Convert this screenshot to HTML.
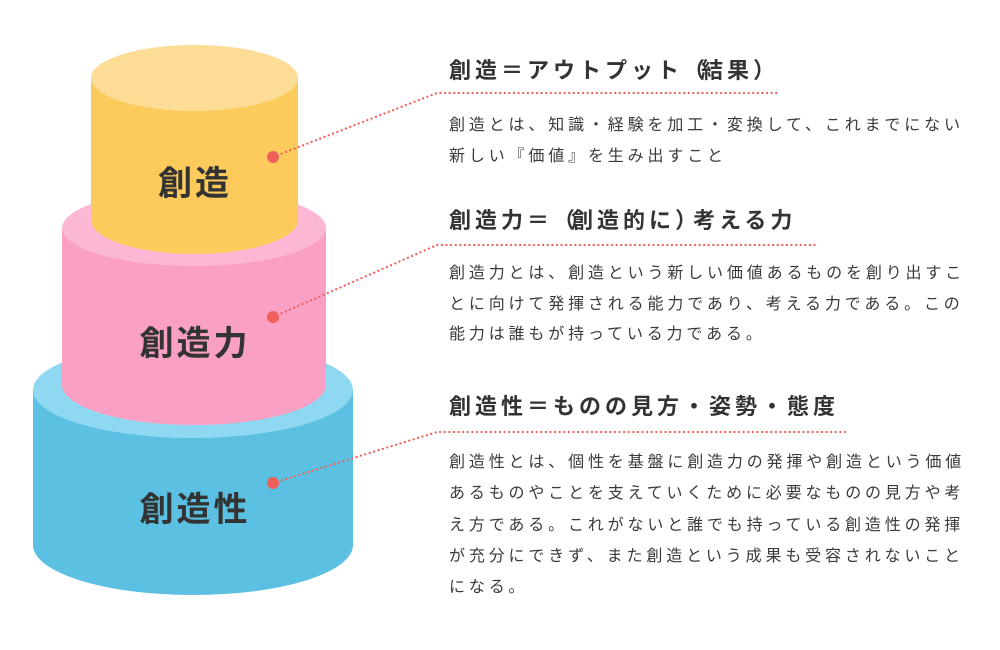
<!DOCTYPE html>
<html><head><meta charset="utf-8">
<style>
html,body{margin:0;padding:0;background:#fff;}
#w{position:relative;width:1000px;height:650px;overflow:hidden;font-family:"Liberation Sans","Noto Sans CJK JP",sans-serif;color:#333;}
.t{position:absolute;left:449px;font-size:22px;font-weight:bold;letter-spacing:4px;white-space:nowrap;line-height:30px;}
.b{position:absolute;left:449px;font-size:16px;letter-spacing:3.85px;white-space:nowrap;line-height:30.5px;color:#3a3a3a;}
.l{position:absolute;font-size:34px;font-weight:bold;letter-spacing:3px;white-space:nowrap;text-align:center;width:300px;left:45px;line-height:40px;color:#333;}
.p{letter-spacing:-4px;}
svg{position:absolute;left:0;top:0;}
</style></head><body><div id="w">
<svg width="1000" height="650">
<path d="M33,390 L33,545 A160,50 0 0 0 353,545 L353,390 Z" fill="#5bc0e2"/>
<ellipse cx="193" cy="390" rx="160" ry="48" fill="#8fd8f2"/>
<path d="M62,228 L62,385 A132,40 0 0 0 326,385 L326,228 Z" fill="#f9a0c4"/>
<ellipse cx="194" cy="228" rx="132" ry="38" fill="#fbb7d3"/>
<path d="M91,78 L91,220 A103.5,34 0 0 0 298,220 L298,78 Z" fill="#fccb5c"/>
<ellipse cx="194.5" cy="78" rx="103.5" ry="33" fill="#fddc95"/>
<g stroke="#f0605a" stroke-width="2.2" stroke-dasharray="0.1 4.5" stroke-linecap="round" fill="none">
<polyline points="273,157 437,93 780,93"/>
<polyline points="273,317 437,245 816,245"/>
<polyline points="273,483 437,432 848,432"/>
</g>
<g fill="#f0605a"><circle cx="273" cy="157" r="6"/><circle cx="273" cy="317" r="6"/><circle cx="273" cy="483" r="6"/></g>
</svg>
<div class="l" style="top:164px">創造</div>
<div class="l" style="top:324px">創造力</div>
<div class="l" style="top:490px">創造性</div>

<div class="t" style="top:56px">創造＝アウトプット<span class="p">（</span>結果<span class="p">）</span></div>
<div class="b" style="top:111px">創造とは、知識・経験を加工・変換して、これまでにない<br>新しい『価値』を生み出すこと</div>

<div class="t" style="top:206px">創造力＝<span class="p">（</span>創造的に<span class="p">）</span>考える力</div>
<div class="b" style="top:259px">創造力とは、創造という新しい価値あるものを創り出すこ<br>とに向けて発揮される能力であり、考える力である。この<br>能力は誰もが持っている力である。</div>

<div class="t" style="top:392px">創造性＝ものの見方・姿勢・態度</div>
<div class="b" style="top:447px;line-height:31.3px">創造性とは、個性を基盤に創造力の発揮や創造という価値<br>あるものやことを支えていくために必要なものの見方や考<br>え方である。これがないと誰でも持っている創造性の発揮<br>が充分にできず、また創造という成果も受容されないこと<br>になる。</div>
</div></body></html>
